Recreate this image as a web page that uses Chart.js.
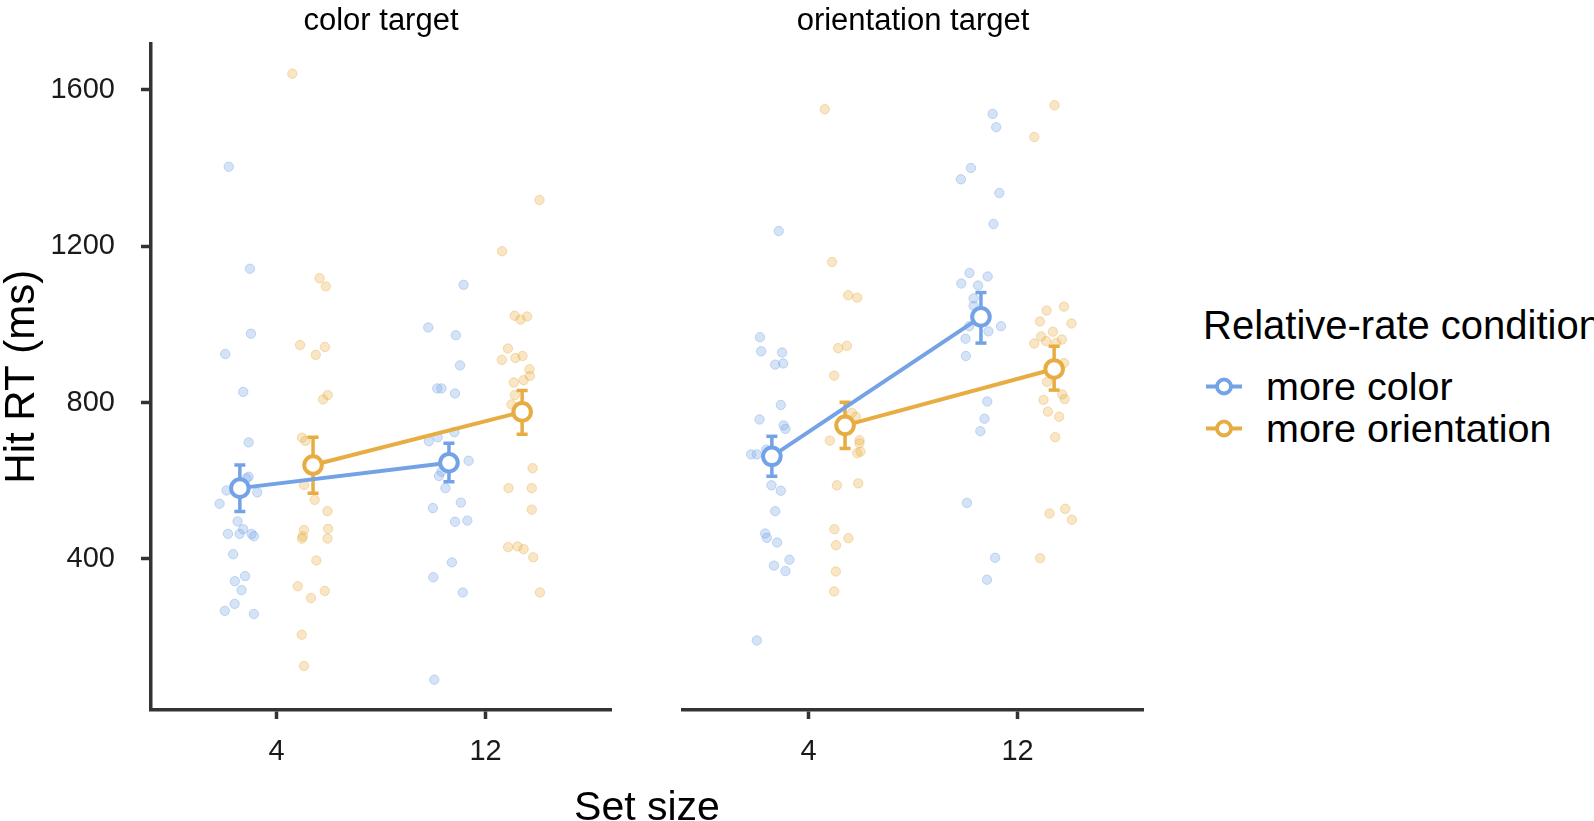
<!DOCTYPE html>
<html>
<head>
<meta charset="utf-8">
<script src="https://cdn.jsdelivr.net/npm/chart.js@4/dist/chart.umd.min.js"></script>
<style>
  html, body { margin:0; padding:0; background:#fff; }
  body { width:1594px; height:821px; position:relative; overflow:hidden; font-family:'Liberation Sans', Arial, Helvetica, sans-serif; color:#000; }
  .abs { position:absolute; white-space:nowrap; }
  #cLeft { position:absolute; left:0; top:0; }
  #cRight { position:absolute; left:640px; top:0; }
  .strip { font-size:31px; transform:translate(-50%,-50%); }
  .lg-item { font-size:39.5px; display:flex; align-items:center; transform:translateY(-50%); }
  .lg-item svg { margin-right:22px; }
</style>
</head>
<body>
<canvas id="cLeft" width="640" height="821"></canvas>
<canvas id="cRight" width="540" height="821"></canvas>
<div class="abs strip" id="stripL" style="left:381px; top:20px;"></div>
<div class="abs strip" id="stripR" style="left:913px; top:20px;"></div>
<div class="abs" id="xTitle" style="left:647px; top:806px; font-size:41px; transform:translate(-50%,-50%);"></div>
<div class="abs" id="lgTitle" style="left:1203px; top:325px; font-size:40px; transform:translateY(-50%);"></div>
<div class="abs lg-item" id="lg0" style="left:1204px; top:386px;"></div>
<div class="abs lg-item" id="lg1" style="left:1204px; top:428px;"></div>
<script>
// ---------- data ----------
const panels = ['color target', 'orientation target'];
const setSizes = ['4', '12'];
const conditions = ['more color', 'more orientation'];
const yTickValues = [400, 800, 1200, 1600];
const yTitle = 'Hit RT (ms)';
const xTitle = 'Set size';
const legendTitle = 'Relative-rate condition';

// means and error bars (per set size 4, 12)
const ct_mc_mean = [581, 646];
const ct_mc_lo   = [521, 597];
const ct_mc_hi   = [640, 696];
const ct_mo_mean = [640, 776];
const ct_mo_lo   = [568, 719];
const ct_mo_hi   = [711, 831];
const ot_mc_mean = [661, 1017];
const ot_mc_lo   = [610, 950];
const ot_mc_hi   = [712, 1079];
const ot_mo_mean = [740, 884];
const ot_mo_lo   = [681, 830];
const ot_mo_hi   = [799, 942];

// individual participant RTs and their horizontal jitter
const ct_mc_4_y  = [1403,1142,976,924,827,698,610,606,575,570,541,496,476,464,464,464,458,412,356,343,320,285,267,259];
const ct_mc_4_j  = [-0.053,0.048,0.053,-0.070,0.016,0.042,0.042,0.032,-0.064,0.083,-0.097,-0.011,0.016,-0.057,-0.001,0.056,0.067,-0.032,0.025,-0.024,0.008,-0.025,-0.072,0.067];
const ct_mo_4_y  = [1641,1118,1097,947,942,922,819,808,710,702,589,551,522,474,458,452,477,452,396,330,300,318,206,126];
const ct_mo_4_j  = [-0.099,0.031,0.061,-0.062,0.057,0.013,0.070,0.048,-0.053,-0.036,-0.043,0.008,0.069,-0.043,-0.049,-0.053,0.072,0.069,0.016,-0.073,-0.010,0.056,-0.054,-0.043];
const ct_mc_12_y = [1101,992,972,895,836,836,823,724,701,711,651,612,623,581,530,544,495,498,391,353,314,91];
const ct_mc_12_j = [0.070,-0.099,0.033,0.053,-0.056,-0.036,0.029,0.026,-0.096,-0.054,0.094,-0.048,-0.036,-0.017,-0.077,0.057,0.029,0.088,0.014,-0.075,0.066,-0.070];
const ct_mo_12_y = [1318,1187,1022,1020,1012,938,909,914,919,885,868,857,851,819,795,632,581,581,526,430,432,425,404,314];
const ct_mo_12_j = [0.083,-0.096,-0.036,0.024,-0.008,-0.068,-0.097,-0.032,0.002,0.035,0.037,0.007,-0.040,-0.035,-0.051,0.050,-0.065,0.046,0.046,-0.067,-0.022,0.007,0.053,0.085];
const ot_mc_4_y  = [1236,965,929,926,895,898,792,755,740,731,666,666,678,587,573,521,464,453,441,397,382,368,191];
const ot_mc_4_j  = [0.033,-0.057,-0.051,0.049,0.016,0.054,0.043,-0.059,0.056,0.065,-0.099,-0.072,-0.027,-0.002,0.043,0.016,-0.032,-0.024,0.025,0.084,0.010,0.065,-0.072];
const ot_mo_4_y  = [1547,1157,1072,1066,937,943,867,772,762,701,702,694,669,673,587,592,475,452,434,367,316];
const ot_mo_4_j  = [-0.097,-0.062,0.015,0.058,-0.033,0.009,-0.052,0.033,0.052,-0.073,0.069,0.069,0.058,0.074,-0.039,0.063,-0.051,0.016,-0.043,-0.044,-0.052];
const ot_mc_12_y = [1535,1501,1397,1368,1333,1254,1129,1120,1102,1097,1064,1045,993,980,993,961,917,801,757,725,542,402,346];
const ot_mc_12_j = [0.056,0.073,-0.048,-0.096,0.088,0.060,-0.055,0.032,-0.094,-0.014,-0.035,-0.035,0.096,0.036,-0.056,-0.074,-0.072,0.030,0.017,-0.003,-0.067,0.068,0.029];
const ot_mo_12_y = [1557,1476,1033,1043,1005,1000,979,967,955,959,949,950,899,851,819,807,805,775,762,710,515,527,499,401];
const ot_mo_12_j = [0.002,-0.095,-0.036,0.047,-0.068,0.083,-0.006,-0.062,-0.038,0.037,-0.095,0.009,0.047,-0.034,0.039,0.050,-0.051,-0.030,0.024,0.005,-0.022,0.053,0.085,-0.067];

// ---------- styling ----------
const FONT = "'Liberation Sans', Arial, Helvetica, sans-serif";
const AXIS = '#333333';
const COLORS = [[115,162,230],[231,173,66]];
const rgba = (c,a) => `rgba(${c[0]},${c[1]},${c[2]},${a})`;
const DODGE = [-0.175, 0.175];
const Y_MIN = 13.5, Y_MAX = 1718.5;

const panelData = [
  { means:[ct_mc_mean, ct_mo_mean], lo:[ct_mc_lo, ct_mo_lo], hi:[ct_mc_hi, ct_mo_hi],
    pts:[[ [ct_mc_4_y,ct_mc_4_j],[ct_mc_12_y,ct_mc_12_j] ], [ [ct_mo_4_y,ct_mo_4_j],[ct_mo_12_y,ct_mo_12_j] ]] },
  { means:[ot_mc_mean, ot_mo_mean], lo:[ot_mc_lo, ot_mo_lo], hi:[ot_mc_hi, ot_mo_hi],
    pts:[[ [ot_mc_4_y,ot_mc_4_j],[ot_mc_12_y,ot_mc_12_j] ], [ [ot_mo_4_y,ot_mo_4_j],[ot_mo_12_y,ot_mo_12_j] ]] }
];

function buildDatasets(pd) {
  const ds = [];
  for (let c = 0; c < 2; c++) {
    const pts = [];
    for (let s = 0; s < 2; s++) {
      const [ys, js] = pd.pts[c][s];
      ys.forEach((v, i) => pts.push({ x: s + 1 + DODGE[c] + js[i], y: v }));
    }
    ds.push({ data: pts, showLine:false, order: 3,
      pointRadius: 4.7, pointBorderWidth: 1,
      pointBackgroundColor: rgba(COLORS[c], 0.3), pointBorderColor: rgba(COLORS[c], 0.38) });
  }
  for (let c = 0; c < 2; c++) {
    const eb = [];
    for (let s = 0; s < 2; s++) {
      const x = s + 1 + DODGE[c];
      eb.push({ x, y: pd.lo[c][s] }, { x, y: pd.hi[c][s] });
      if (s === 0) eb.push({ x: x + 0.5, y: null });
    }
    ds.push({ data: eb, showLine:true, spanGaps:false, order: 1,
      borderColor: rgba(COLORS[c],1), borderWidth: 3.5,
      pointStyle:'line', pointRadius: 5.5, pointBorderWidth: 3.5, pointBorderColor: rgba(COLORS[c],1) });
  }
  for (let c = 0; c < 2; c++) {
    ds.push({ data: pd.means[c].map((v, s) => ({ x: s + 1 + DODGE[c], y: v })), showLine:true, order: 0 - c,
      borderColor: rgba(COLORS[c],1), borderWidth: 4,
      pointRadius: 8.8, pointBorderWidth: 4, pointBackgroundColor:'#ffffff', pointBorderColor: rgba(COLORS[c],1) });
  }
  return ds;
}

function xScale() {
  return {
    type:'linear', min:0.4, max:2.6,
    afterBuildTicks: s => { s.ticks = setSizes.map((_, i) => ({ value: i + 1 })); },
    afterFit: s => { s.height = 111; },
    ticks: { callback: (v) => setSizes[Math.round(v) - 1], font:{ family:FONT, size:29 }, color:'#1a1a1a', padding: 16, maxRotation:0, autoSkip:false },
    grid: { drawOnChartArea:false, drawTicks:true, tickLength:9, tickWidth:3.5, tickColor:AXIS },
    border: { display:true, color:AXIS, width:3.5 }
  };
}

function makeChart(id, pd, showY, padding) {
  const y = {
    type:'linear', min:Y_MIN, max:Y_MAX, display: showY,
    afterBuildTicks: s => { s.ticks = yTickValues.map(v => ({ value: v })); },
    grid: { drawOnChartArea:false, drawTicks:true, tickLength:10, tickWidth:3.5, tickColor:AXIS },
    border: { display:true, color:AXIS, width:3.5 },
    ticks: { callback: (v) => String(v), font:{ family:FONT, size:29 }, color:'#1a1a1a', padding: 26 },
    title: { display:true, text:yTitle, font:{ family:FONT, size:42, lineHeight:1.0 }, color:'#000', padding:{top:1,bottom:0} }
  };
  if (showY) y.afterFit = s => { s.width = 151; };
  return new Chart(document.getElementById(id), {
    type:'scatter',
    data:{ datasets: buildDatasets(pd) },
    options:{
      responsive:false, animation:false, events:[],
      layout:{ padding },
      plugins:{ legend:{display:false}, tooltip:{enabled:false}, title:{display:false} },
      scales:{ x: xScale(), y }
    }
  });
}

makeChart('cLeft', panelData[0], true, { top:42, right:29, bottom:0, left:0 });
makeChart('cRight', panelData[1], false, { top:42, right:37, bottom:0, left:43 });

// ---------- text ----------
document.getElementById('stripL').textContent = panels[0];
document.getElementById('stripR').textContent = panels[1];
document.getElementById('xTitle').textContent = xTitle;
document.getElementById('lgTitle').textContent = legendTitle;
conditions.forEach((name, i) => {
  const col = rgba(COLORS[i], 1);
  document.getElementById('lg' + i).innerHTML =
    `<svg width="40" height="22" viewBox="0 0 40 22"><line x1="2" y1="11" x2="38" y2="11" stroke="${col}" stroke-width="3.8"/>` +
    `<circle cx="20" cy="11" r="7" fill="#fff" stroke="${col}" stroke-width="3.8"/></svg><span>${name}</span>`;
});
</script>
</body>
</html>
